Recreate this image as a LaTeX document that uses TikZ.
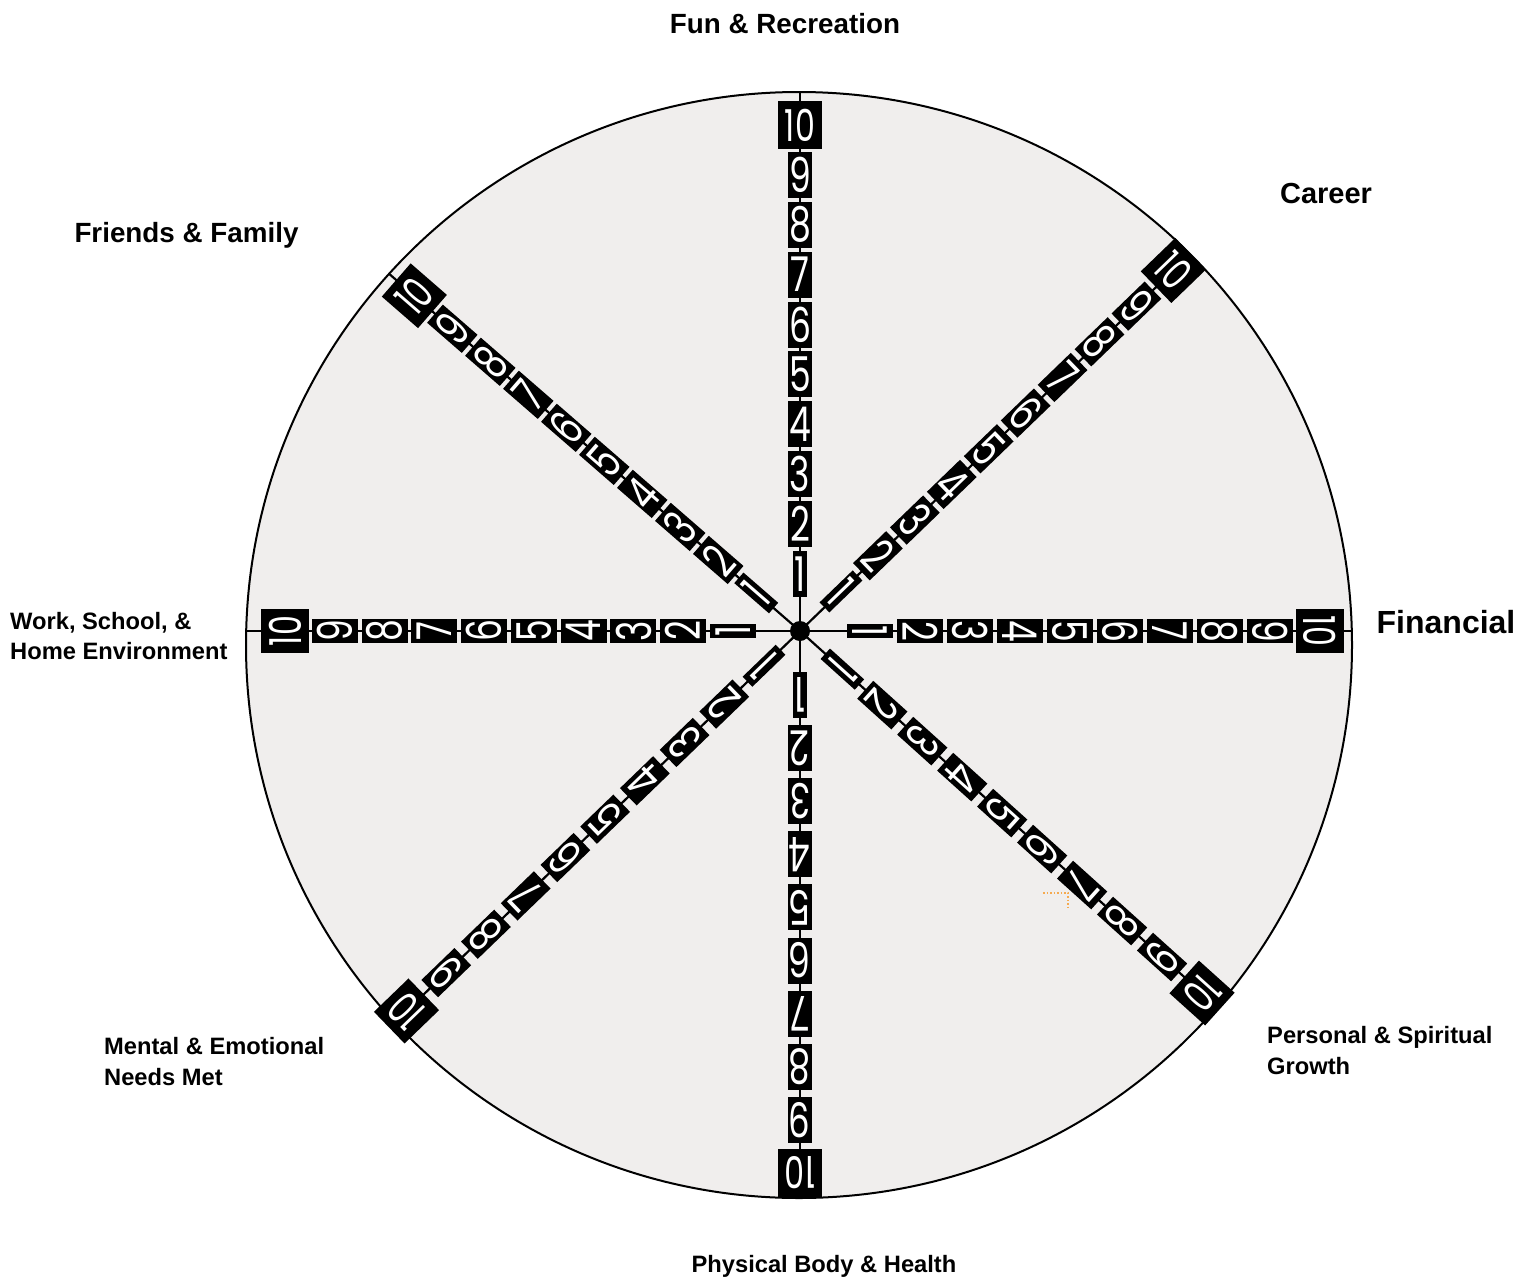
\documentclass[tikz,border=0pt]{standalone}
\usepackage{fontspec}
\setmainfont{Liberation Sans}
\newfontfamily\digitfont{Poppins}
\usetikzlibrary{calc}
\definecolor{wheelbg}{RGB}{240,238,237}
\definecolor{markorange}{RGB}{245,170,80}
\tikzset{
  numbox/.style={fill=black, text=white, inner sep=0pt, minimum width=24pt, minimum height=46pt},
  onebox/.style={numbox, minimum width=14pt},
  tenbox/.style={numbox, minimum width=44pt, minimum height=48pt},
  lblsmall/.style={font=\bfseries\fontsize{23.7}{30.5}\selectfont, align=left, inner sep=0pt},
  lblmid/.style={font=\bfseries\fontsize{27.8}{32}\selectfont, inner sep=0pt},
  spokeline/.style={line width=2.2pt},
}
\newcommand{\dg}[2]{\scalebox{0.72}[1]{\digitfont\fontsize{#1}{#1}\selectfont #2}}
\begin{document}
\begin{tikzpicture}[x=1pt,y=1pt]
\useasboundingbox (0,0) rectangle (1535,-1277);
\node[circle, draw, fill=wheelbg, line width=2pt, minimum size=1106pt, inner sep=0pt] (wheel) at (799,-645) {};
\coordinate (O) at (800,-631);
\foreach \nm/\ang/\da/\db/\dr in {fun/90/57/506/539, car/44/57/517/542, fin/0/70/520/552, per/-42/57/539/561, phy/-90/64/542/567, men/-136/50/545/563, wor/180/67/515/555, fri/139/58/509/544}{
  \coordinate (end-\nm) at ($(O)+(\ang:\dr)$);
  \draw[spokeline] (O) -- (end-\nm);
}
\node[circle, fill=black, minimum size=20pt, inner sep=0pt] (hub) at (O) {};
\foreach \nm/\ang/\da/\db in {fun/90/57/506, car/44/57/519, fin/0/70/520, per/-42/57/541, phy/-90/64/542, men/-136/50/547, wor/180/67/515, fri/139/58/511}{
  \foreach \k in {1,...,10}{
    \pgfmathsetmacro{\dd}{\da+(\k-1)*(\db-\da)/9}
    \ifnum\k=1 \def\bs{onebox}\def\fs{48}\else\ifnum\k=10 \def\bs{tenbox}\def\fs{44}\else\def\bs{numbox}\def\fs{48}\fi\fi
    \node[\bs, rotate=\ang-90] (\nm-\k) at ($(O)+(\ang:\dd)$) {\dg{\fs}{\k}};
  }
}
\draw[markorange, dotted, line width=1.5pt] (1043,-893) -- (1068,-893) -- (1068,-910);
\node[lblmid, anchor=base] (funlbl) at (785,-33) {Fun \& Recreation};
\node[lblmid, anchor=base, font=\bfseries\fontsize{29}{32}\selectfont] (careerlbl) at (1326,-203.5) {Career};
\node[lblmid, anchor=base] (friendslbl) at (186.5,-242) {Friends \& Family};
\node[lblmid, anchor=base, font=\bfseries\fontsize{32}{34}\selectfont] (finlbl) at (1446,-633.5) {Financial};
\node[lblsmall, anchor=west] (worklbl) at (10,-636) {Work, School, \&\\Home Environment};
\node[lblsmall, anchor=west] (mentallbl) at (104,-1061.5) {Mental \& Emotional\\Needs Met};
\node[lblsmall, anchor=west] (personallbl) at (1267,-1050.5) {Personal \& Spiritual\\Growth};
\node[lblsmall, anchor=base] (physlbl) at (824,-1272.5) {Physical Body \& Health};
\end{tikzpicture}
\end{document}
